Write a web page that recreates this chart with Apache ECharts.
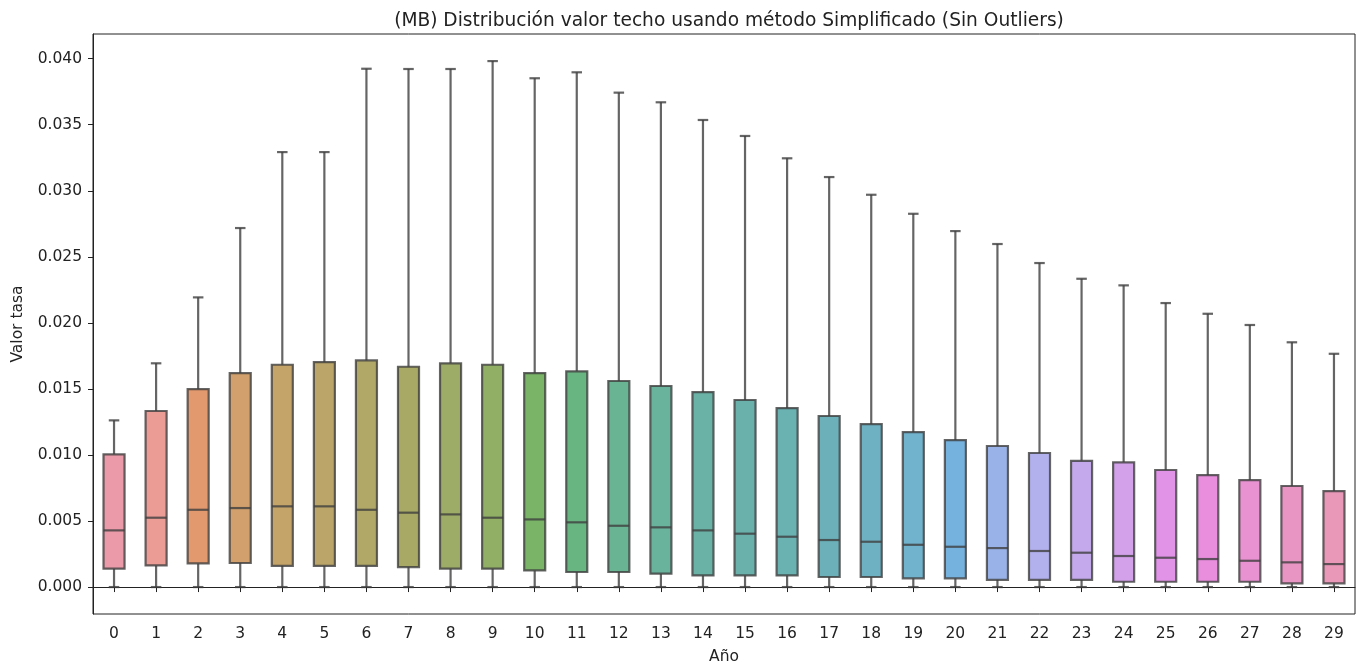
<!DOCTYPE html>
<html>
<head>
<meta charset="utf-8">
<script src="https://cdn.jsdelivr.net/npm/echarts@6/dist/echarts.min.js"></script>
<style>
html,body{margin:0;padding:0;background:#fff;}
#chart{width:1360px;height:671px;}
</style>
</head>
<body>
<div id="chart"></div>
<script>
// ---- data ----
const years = ['0','1','2','3','4','5','6','7','8','9','10','11','12','13','14','15','16','17','18','19','20','21','22','23','24','25','26','27','28','29'];
const whiskerLow = [0,0,0,0,0,0,0,0,0,0,0,0,0,0,0,0,0,0,0,0,0,0,0,0,0,0,0,0,0,0];
const q1 = [0.00139,0.00164,0.00179,0.00182,0.00161,0.00161,0.00161,0.00151,0.00139,0.00139,0.00126,0.00114,0.00114,0.00101,0.00088,0.00088,0.00088,0.00076,0.00076,0.00066,0.00066,0.00055,0.00055,0.00055,0.0004,0.0004,0.0004,0.0004,0.00028,0.00028];
const median = [0.00429,0.00525,0.00585,0.00598,0.00611,0.00611,0.00585,0.00563,0.0055,0.00525,0.00512,0.0049,0.00464,0.00452,0.00429,0.00404,0.00381,0.00356,0.00343,0.0032,0.00305,0.00295,0.00273,0.0026,0.00235,0.00222,0.00212,0.00199,0.00187,0.00174];
const q3 = [0.01005,0.01333,0.01499,0.0162,0.01683,0.01703,0.01716,0.01668,0.01694,0.01683,0.0162,0.01633,0.0156,0.01522,0.01476,0.01416,0.01355,0.01295,0.01234,0.01173,0.01113,0.01068,0.01015,0.00956,0.00944,0.00886,0.00848,0.0081,0.00765,0.00727];
const whiskerHigh = [0.01262,0.01694,0.02193,0.02718,0.03293,0.03293,0.03924,0.03922,0.03922,0.03982,0.03852,0.03897,0.03743,0.0367,0.03536,0.03415,0.03246,0.03104,0.0297,0.02826,0.02695,0.02597,0.02453,0.02334,0.02284,0.0215,0.02069,0.01984,0.01853,0.01766];
const yTicks = [0,0.005,0.01,0.015,0.02,0.025,0.03,0.035,0.04];

// ---- husl palette (seaborn style) ----
const M = [[3.2406,-1.5372,-0.4986],[-0.9689,1.8758,0.0415],[0.0557,-0.2040,1.0570]];
const refU = 0.19784, refV = 0.46834, labE = 0.008856, labK = 903.3;
function maxChroma(L, H) {
  const hr = H * Math.PI / 180, sinH = Math.sin(hr), cosH = Math.cos(hr);
  const sub1 = Math.pow(L + 16, 3) / 1560896;
  const sub2 = sub1 > labE ? sub1 : L / labK;
  let res = Infinity;
  for (const [m1, m2, m3] of M) {
    const top = (0.99915 * m1 + 1.05122 * m2 + 1.14460 * m3) * sub2;
    const rb = 0.86330 * m3 - 0.17266 * m2;
    const lb = 0.12949 * m3 - 0.38848 * m1;
    const bottom = (rb * sinH + lb * cosH) * sub2;
    for (const t of [0, 1]) {
      const C = L * (top - 1.05122 * t) / (bottom + 0.17266 * sinH * t);
      if (C > 0 && C < res) res = C;
    }
  }
  return res;
}
function fInv(t) { return Math.pow(t, 3) > labE ? Math.pow(t, 3) : (116 * t - 16) / labK; }
function fromLinear(c) { return c <= 0.0031308 ? 12.92 * c : 1.055 * Math.pow(c, 1 / 2.4) - 0.055; }
function huslToRgb(h, s, l) {
  const C = maxChroma(l, h) / 100 * s;
  const hr = h * Math.PI / 180;
  const U = Math.cos(hr) * C, V = Math.sin(hr) * C;
  const varY = fInv((l + 16) / 116);
  const varU = U / (13 * l) + refU, varV = V / (13 * l) + refV;
  const Y = varY;
  const X = 0 - (9 * Y * varU) / ((varU - 4) * varV - varU * varV);
  const Z = (9 * Y - 15 * varV * Y - varV * X) / (3 * varV);
  return M.map(r => Math.min(1, Math.max(0, fromLinear(r[0] * X + r[1] * Y + r[2] * Z))));
}
function rgbToHls(r, g, b) {
  const mx = Math.max(r, g, b), mn = Math.min(r, g, b);
  const l = (mx + mn) / 2;
  if (mx === mn) return [0, l, 0];
  const d = mx - mn;
  const s = l <= 0.5 ? d / (mx + mn) : d / (2 - mx - mn);
  let h;
  const rc = (mx - r) / d, gc = (mx - g) / d, bc = (mx - b) / d;
  if (r === mx) h = bc - gc; else if (g === mx) h = 2 + rc - bc; else h = 4 + gc - rc;
  h = ((h / 6) % 1 + 1) % 1;
  return [h, l, s];
}
function hlsToRgb(h, l, s) {
  if (s === 0) return [l, l, l];
  const m2 = l <= 0.5 ? l * (1 + s) : l + s - l * s;
  const m1 = 2 * l - m2;
  function v(hue) {
    hue = ((hue % 1) + 1) % 1;
    if (hue < 1 / 6) return m1 + (m2 - m1) * hue * 6;
    if (hue < 0.5) return m2;
    if (hue < 2 / 3) return m1 + (m2 - m1) * (2 / 3 - hue) * 6;
    return m1;
  }
  return [v(h + 1 / 3), v(h), v(h - 1 / 3)];
}
function toHex(rgb) { return '#' + rgb.map(c => Math.round(c * 255).toString(16).padStart(2, '0')).join(''); }
const n = years.length;
const palette = [];
let minLum = 1;
for (let i = 0; i < n; i++) {
  const h = ((i / n + 0.01) % 1) * 359;
  const rgb = huslToRgb(h, 0.9 * 99, 0.65 * 99);
  const hls = rgbToHls(...rgb);
  minLum = Math.min(minLum, hls[1]);
  palette.push(toHex(hlsToRgb(hls[0], hls[1], hls[2] * 0.75)));
}
const lum = minLum * 0.6;
const gray = toHex([lum, lum, lum]);
const boxAlpha = 0.8;

// ---- chart ----
const boxData = years.map((y, i) => [i, whiskerLow[i], q1[i], median[i], q3[i], whiskerHigh[i]]);
const chart = echarts.init(document.getElementById('chart'), null, {renderer: 'canvas'});
const font = 'DejaVu Sans';
chart.setOption({
  animation: false,
  backgroundColor: '#ffffff',
  title: {
    text: '(MB) Distribución valor techo usando método Simplificado (Sin Outliers)',
    left: 724, top: 7, textAlign: 'center',
    textStyle: {fontFamily: font, fontSize: 18.6, fontWeight: 'normal', color: '#222'}
  },
  grid: {left: 93, right: 5, top: 34, bottom: 57, show: true, borderColor: '#222', borderWidth: 1, containLabel: false},
  xAxis: {
    type: 'category', data: years, boundaryGap: true,
    name: 'Año', nameLocation: 'middle', nameGap: 35,
    nameTextStyle: {fontFamily: font, fontSize: 15.5, color: '#222'},
    axisLine: {show: true, lineStyle: {color: '#222', width: 1}},
    axisTick: {show: true, alignWithLabel: true, length: 5, lineStyle: {color: '#222'}},
    axisLabel: {fontFamily: font, fontSize: 15.5, color: '#222', margin: 12, interval: 0},
    splitLine: {show: false}
  },
  yAxis: {
    type: 'value', min: -0.00204, max: 0.04187,
    name: 'Valor tasa', nameLocation: 'middle', nameGap: 67, nameRotate: 90,
    nameTextStyle: {fontFamily: font, fontSize: 15.5, color: '#222'},
    axisLine: {show: true, lineStyle: {color: '#222', width: 1}},
    axisTick: {show: true, length: 5, lineStyle: {color: '#222'}, customValues: yTicks},
    axisLabel: {fontFamily: font, fontSize: 15.5, color: '#222', margin: 11, customValues: yTicks,
      formatter: v => v.toFixed(3)},
    splitLine: {show: false}
  },
  series: [{
    type: 'custom',
    data: boxData,
    encode: {x: 0, y: [1, 2, 3, 4, 5]},
    renderItem: function (params, api) {
      const idx = api.value(0);
      const cx = api.coord([idx, 0])[0];
      const yLo = api.coord([idx, api.value(1)])[1];
      const yQ1 = api.coord([idx, api.value(2)])[1];
      const yMed = api.coord([idx, api.value(3)])[1];
      const yQ3 = api.coord([idx, api.value(4)])[1];
      const yHi = api.coord([idx, api.value(5)])[1];
      const band = api.size([1, 0])[0];
      const hw = band * 0.25;
      const cw = hw * 0.5;
      const ls = {stroke: gray, lineWidth: 2.2, fill: null, opacity: boxAlpha};
      return {
        type: 'group',
        children: [
          {type: 'line', shape: {x1: cx, y1: yQ1, x2: cx, y2: yLo}, style: ls},
          {type: 'line', shape: {x1: cx, y1: yQ3, x2: cx, y2: yHi}, style: ls},
          {type: 'line', shape: {x1: cx - cw, y1: yLo, x2: cx + cw, y2: yLo}, style: ls},
          {type: 'line', shape: {x1: cx - cw, y1: yHi, x2: cx + cw, y2: yHi}, style: ls},
          {type: 'rect', shape: {x: cx - hw, y: yQ3, width: hw * 2, height: yQ1 - yQ3},
            style: {fill: palette[idx], stroke: gray, lineWidth: 2.2, opacity: boxAlpha}},
          {type: 'line', shape: {x1: cx - hw, y1: yMed, x2: cx + hw, y2: yMed}, style: ls}
        ]
      };
    }
  }]
});
</script>
</body>
</html>
